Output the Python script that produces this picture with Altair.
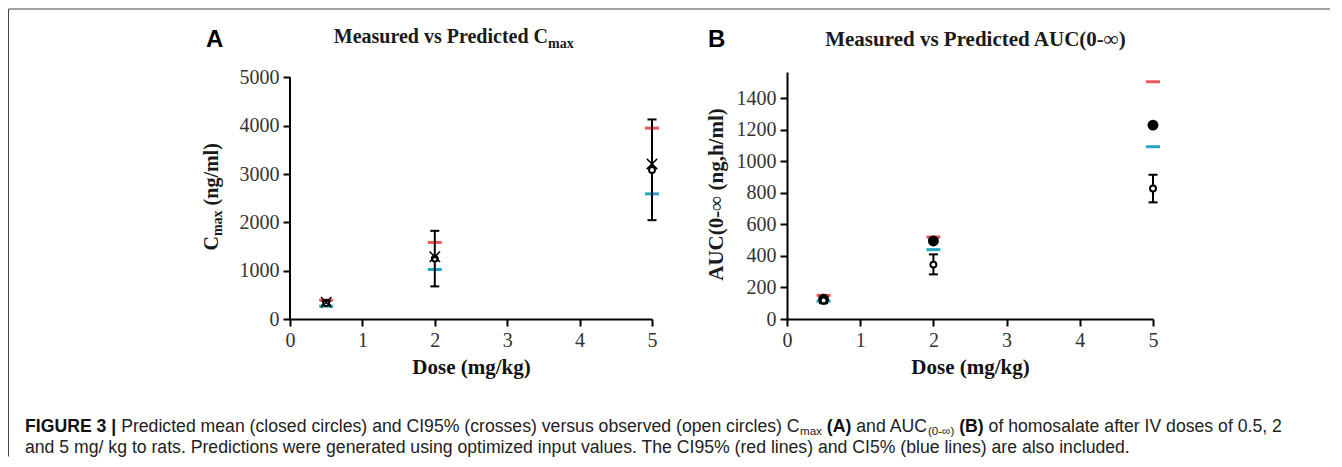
import altair as alt
import pandas as pd

# ---------------- data ----------------
dose = [0.5, 2, 5]

# Panel A: Cmax (ng/ml)
cmax_obs = [330, 1250, 3085]
cmax_obs_lo = [290, 675, 2045]
cmax_obs_hi = [370, 1825, 4130]
cmax_cross = [345, 1290, 3210]
cmax_ci95 = [390, 1585, 3950]
cmax_ci5 = [265, 1025, 2590]

# Panel B: AUC(0-inf) (ng.h/ml)
auc_pred = [125, 495, 1230]
auc_obs = [118, 345, 828]
auc_obs_lo = [100, 283, 740]
auc_obs_hi = [136, 410, 915]
auc_ci95 = [150, 520, 1505]
auc_ci5 = [113, 440, 1093]

x_ticks = [0, 1, 2, 3, 4, 5]
cmax_ticks = [0, 1000, 2000, 3000, 4000, 5000]
auc_ticks = [0, 200, 400, 600, 800, 1000, 1200, 1400]

title_a = ["Measured vs Predicted C", "max"]
title_b = "Measured vs Predicted AUC(0-∞)"
ytitle_a = ["C", "max", "(ng/ml)"]
ytitle_b = "AUC(0-∞ (ng,h/ml)"
xtitle = "Dose (mg/kg)"
caption1 = [
    ("FIGURE 3 |", "b"), (" ", "r"),
    ("Predicted mean (closed circles) and CI95% (crosses) versus observed (open circles) C", "r"),
    ("max", "s"), (" ", "r"), ("(A)", "b"), (" ", "r"), ("and AUC", "r"), ("(0-∞)", "s"),
    (" ", "r"), ("(B)", "b"), (" ", "r"), ("of homosalate after IV doses of 0.5, 2", "r"),
]
caption2 = ("and 5 mg/ kg to rats. Predictions were generated using optimized input values. "
            "The CI95% (red lines) and CI5% (blue lines) are also included.")

# ---------------- layout / style ----------------
W_A, W_B, H, GAP = 362, 366, 247, 135
A_TOP, B_TOP = 5112, 1567
RED, BLUE = "#f0575b", "#23a7c4"
SERIF, SANS = "Liberation Serif", "Liberation Sans"
A_PX, B_PX, TOP_PY = 290, 787, 71.5


def ax(px):
    return px - A_PX


def bx(px):
    return px - B_PX


def py(p):
    return p - TOP_PY


one = pd.DataFrame({"k": [0]})

# Arial / Helvetica advance widths (1/1000 em) for laying out caption pieces
REG = {' ': 278, '!': 278, '%': 889, "'": 191, '(': 333, ')': 333, ',': 278, '-': 333, '.': 278,
       '/': 278, ':': 278, '|': 260, '∞': 713,
       'A': 667, 'B': 667, 'C': 722, 'D': 722, 'E': 667, 'F': 611, 'G': 778, 'H': 722, 'I': 278,
       'J': 500, 'K': 667, 'L': 556, 'M': 833, 'N': 722, 'O': 778, 'P': 667, 'Q': 778, 'R': 722,
       'S': 667, 'T': 611, 'U': 722, 'V': 667, 'W': 944, 'X': 667, 'Y': 667, 'Z': 611,
       'a': 556, 'b': 556, 'c': 500, 'd': 556, 'e': 556, 'f': 278, 'g': 556, 'h': 556, 'i': 222,
       'j': 222, 'k': 500, 'l': 222, 'm': 833, 'n': 556, 'o': 556, 'p': 556, 'q': 556, 'r': 333,
       's': 500, 't': 278, 'u': 556, 'v': 500, 'w': 722, 'x': 500, 'y': 500, 'z': 500}
for d in "0123456789":
    REG[d] = 556
BOLD = {' ': 278, '(': 333, ')': 333, '|': 280, 'A': 722, 'B': 722, 'E': 667, 'F': 611, 'G': 778,
        'I': 278, 'R': 722, 'U': 722, '3': 556}
SUB = 0.66


def em(s, style):
    table = BOLD if style == "b" else REG
    f = SUB if style == "s" else 1.0
    return f * sum(table.get(c, 556) for c in s) / 1000.0


def txt(s, x, y, size, weight="normal", font=SERIF, align="left", angle=0, color="#1a1a1a"):
    kw = dict(text=s, font=font, fontSize=size, fontWeight=weight, align=align,
              baseline="alphabetic", color=color)
    if angle:
        kw["angle"] = angle
    return alt.Chart(one).mark_text(**kw).encode(x=alt.value(x), y=alt.value(y))


def xenc():
    return alt.X("dose:Q", scale=alt.Scale(domain=[0, 5], nice=False),
                 axis=alt.Axis(values=x_ticks, format="d", title=xtitle))


def yenc(field, top, ticks, domain=True):
    return alt.Y(f"{field}:Q", scale=alt.Scale(domain=[0, top], nice=False, zero=True),
                 axis=alt.Axis(values=ticks, format="d", title=None, domain=domain))


def tick(base, field, yf, color, size, thick):
    return base.mark_tick(orient="horizontal", size=size, thickness=thick, color=color,
                          opacity=1).encode(x=xenc(), y=yf(field))


# ---------------- panel A ----------------
dfA = pd.DataFrame({"dose": dose, "obs": cmax_obs, "lo": cmax_obs_lo, "hi": cmax_obs_hi,
                    "cross": cmax_cross, "ci95": cmax_ci95, "ci5": cmax_ci5})
axisA = pd.DataFrame({"dose": [0], "y0": [cmax_ticks[0]], "y1": [cmax_ticks[-1]]})


def yA(f):
    return yenc(f, A_TOP, cmax_ticks, domain=False)


baseA = alt.Chart(dfA)
layersA = [
    alt.Chart(axisA).mark_rule(color="black", strokeWidth=2).encode(x=xenc(), y=yA("y0"), y2="y1:Q"),
    tick(baseA, "ci95", yA, RED, 14, 3),
    tick(baseA, "ci5", yA, BLUE, 14, 3),
    baseA.mark_rule(color="black", strokeWidth=2).encode(x=xenc(), y=yA("lo"), y2="hi:Q"),
    tick(baseA, "lo", yA, "black", 9, 2),
    tick(baseA, "hi", yA, "black", 9, 2),
    baseA.mark_point(shape="circle", filled=True, fill="white", stroke="black", strokeWidth=2,
                     size=35, opacity=1).encode(x=xenc(), y=yA("obs")),
    baseA.mark_point(shape="M-1,-1L1,1M-1,1L1,-1", filled=False, color="black", strokeWidth=1.5,
                     size=110, opacity=1).encode(x=xenc(), y=yA("cross")),
]

# frame lines
BX, BY = ax(8.5), py(8.5)
deco = [
    alt.Chart(one).mark_rule(color="#444444", strokeWidth=1).encode(
        x=alt.value(BX), x2=alt.value(ax(1330)), y=alt.value(BY)),
    alt.Chart(one).mark_rule(color="#444444", strokeWidth=1).encode(
        x=alt.value(BX), y=alt.value(BY), y2=alt.value(py(456))),
]

# panel letter + title A
deco += [
    txt("A", ax(206), py(46.7), 24, "bold", SANS, color="black"),
    txt(title_a[0], ax(548), py(42.5), 20, "bold", align="right"),
    txt(title_a[1], ax(548), py(47), 14, "bold", align="left"),
]

# y title A (rotated, with subscript)
ya_fs, ya_sub = 20, 14
c_anchor = py(250) - 0.722 * ya_fs
rest_anchor = c_anchor - 1.833 * ya_sub - 0.25 * ya_fs
deco += [
    txt(ytitle_a[0], ax(218), c_anchor, ya_fs, "bold", align="right", angle=270),
    txt(ytitle_a[1], ax(222), c_anchor, ya_sub, "bold", align="left", angle=270),
    txt(ytitle_a[2], ax(218), rest_anchor, ya_fs, "bold", align="left", angle=270),
]

# caption
cap_left, cap_right = 25, 1282
total_em = sum(em(s, st) for s, st in caption1)
cap_fs = (cap_right - cap_left) / total_em
cx = ax(cap_left)
y1, y2 = py(431), py(452)
for s, st in caption1:
    w = em(s, st) * cap_fs
    if s.strip():
        if st == "b":
            deco.append(txt(s, cx, y1, cap_fs, "bold", SANS, color="#111111"))
        elif st == "s":
            deco.append(txt(s, cx, y1 + 0.17 * cap_fs, cap_fs * SUB, "normal", SANS, color="#222222"))
        else:
            deco.append(txt(s, cx, y1, cap_fs, "normal", SANS, color="#222222"))
    cx += w
deco.append(txt(caption2, ax(cap_left), y2, cap_fs, "normal", SANS, color="#222222"))

panelA = alt.layer(*layersA, *deco).properties(width=W_A, height=H)

# ---------------- panel B ----------------
dfB = pd.DataFrame({"dose": dose, "pred": auc_pred, "obs": auc_obs, "lo": auc_obs_lo,
                    "hi": auc_obs_hi, "ci95": auc_ci95, "ci5": auc_ci5})


def yB(f):
    return yenc(f, B_TOP, auc_ticks, domain=True)


baseB = alt.Chart(dfB)
layersB = [
    tick(baseB, "ci95", yB, RED, 14, 3),
    tick(baseB, "ci5", yB, BLUE, 14, 3),
    baseB.mark_point(shape="circle", filled=True, color="black", size=120,
                     opacity=1).encode(x=xenc(), y=yB("pred")),
    baseB.mark_rule(color="black", strokeWidth=2).encode(x=xenc(), y=yB("lo"), y2="hi:Q"),
    tick(baseB, "lo", yB, "black", 9, 2),
    tick(baseB, "hi", yB, "black", 9, 2),
    baseB.mark_point(shape="circle", filled=True, fill="white", stroke="black", strokeWidth=2,
                     size=35, opacity=1).encode(x=xenc(), y=yB("obs")),
]
decoB = [
    txt("B", bx(708), py(46), 24, "bold", SANS, color="black"),
    txt(title_b, bx(975.5), py(45), 21, "bold", align="center"),
    txt(ytitle_b, bx(723), py(194), 21, "bold", align="center", angle=270),
]
panelB = alt.layer(*layersB, *decoB).properties(width=W_B, height=H)

chart = (
    alt.hconcat(panelA, panelB, spacing=GAP, bounds="flush")
    .properties(padding=0, background="white")
    .configure_view(stroke=None)
    .configure_axis(
        grid=False, domainColor="black", domainWidth=2, tickColor="black", tickWidth=2,
        tickSize=7, labelFont=SERIF, labelFontSize=20, labelColor="#333333", labelPadding=4,
        labelFlush=False, titleFont=SERIF, titleFontSize=21, titleFontWeight="bold",
        titleColor="#111111", titlePadding=6,
    )
)

chart.save("out.html", embed_options={"renderer": "svg", "actions": False})
